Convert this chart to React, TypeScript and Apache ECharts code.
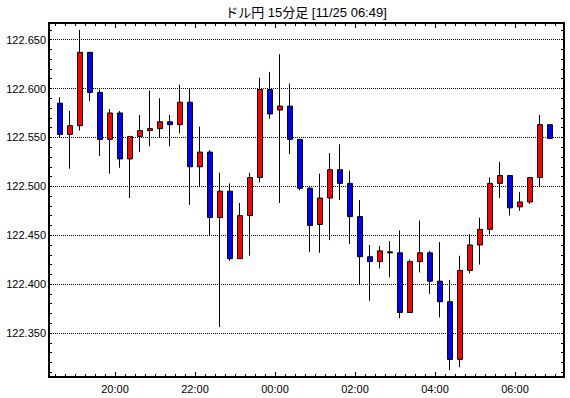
import { useEffect, useRef } from 'react';
import * as echarts from 'echarts';

const title = 'ドル円 15分足 [11/25 06:49]';

const times = [
  '18:30', '18:45', '19:00', '19:15', '19:30', '19:45', '20:00', '20:15', '20:30', '20:45',
  '21:00', '21:15', '21:30', '21:45', '22:00', '22:15', '22:30', '22:45', '23:00', '23:15',
  '23:30', '23:45', '00:00', '00:15', '00:30', '00:45', '01:00', '01:15', '01:30', '01:45',
  '02:00', '02:15', '02:30', '02:45', '03:00', '03:15', '03:30', '03:45', '04:00', '04:15',
  '04:30', '04:45', '05:00', '05:15', '05:30', '05:45', '06:00', '06:15', '06:30', '06:45',
];

const opens = [
  122.585, 122.553, 122.562, 122.637, 122.596, 122.548, 122.575, 122.528, 122.551, 122.557,
  122.559, 122.566, 122.563, 122.586, 122.520, 122.535, 122.468, 122.495, 122.426, 122.470,
  122.509, 122.599, 122.578, 122.582, 122.548, 122.498, 122.461, 122.488, 122.517, 122.503,
  122.469, 122.428, 122.423, 122.433, 122.432, 122.371, 122.423, 122.432, 122.403, 122.382,
  122.323, 122.414, 122.440, 122.456, 122.503, 122.511, 122.479, 122.484, 122.509, 122.563,
];
const closes = [
  122.553, 122.562, 122.637, 122.596, 122.548, 122.575, 122.528, 122.551, 122.557, 122.559,
  122.566, 122.563, 122.586, 122.520, 122.535, 122.468, 122.495, 122.426, 122.470, 122.509,
  122.599, 122.574, 122.582, 122.548, 122.498, 122.460, 122.488, 122.517, 122.503, 122.469,
  122.428, 122.423, 122.434, 122.432, 122.371, 122.423, 122.432, 122.403, 122.382, 122.323,
  122.414, 122.440, 122.456, 122.503, 122.511, 122.478, 122.484, 122.509, 122.563, 122.549,
];
const lows = [
  122.550, 122.518, 122.557, 122.587, 122.531, 122.513, 122.519, 122.488, 122.535, 122.541,
  122.550, 122.541, 122.554, 122.481, 122.500, 122.450, 122.356, 122.424, 122.426, 122.429,
  122.504, 122.569, 122.483, 122.533, 122.496, 122.433, 122.432, 122.445, 122.486, 122.441,
  122.400, 122.383, 122.416, 122.407, 122.365, 122.371, 122.412, 122.390, 122.366, 122.312,
  122.315, 122.411, 122.420, 122.451, 122.488, 122.470, 122.475, 122.482, 122.500, 122.549,
];
const highs = [
  122.591, 122.577, 122.660, 122.637, 122.599, 122.579, 122.577, 122.551, 122.573, 122.598,
  122.590, 122.573, 122.604, 122.600, 122.561, 122.537, 122.514, 122.503, 122.483, 122.514,
  122.611, 122.617, 122.635, 122.605, 122.548, 122.500, 122.513, 122.534, 122.543, 122.516,
  122.486, 122.440, 122.439, 122.444, 122.455, 122.425, 122.465, 122.434, 122.443, 122.404,
  122.429, 122.451, 122.468, 122.509, 122.525, 122.511, 122.494, 122.509, 122.573, 122.563,
];

const Y_MIN = 122.305;
const Y_MAX = 122.667;
// x scale of the frame, in candle slots relative to the 20:00 boundary
const X_MIN = -6.6;
const X_MAX = 44.9;
const FIRST_MAJOR = 6; // index of the 20:00 candle

const FONT = "'Liberation Sans', 'Noto Sans CJK JP', sans-serif";

export default function App() {
  const ref = useRef<HTMLDivElement>(null);
  useEffect(() => {
    if (!ref.current) return;
    const chart = echarts.init(ref.current, undefined, { renderer: 'svg' });
    const data = opens.map((o, i) => [o, closes[i], lows[i], highs[i]]);

    const tickAxisX = (position: string, major: boolean, labels: boolean) => ({
      type: 'value',
      gridIndex: 0,
      position,
      min: X_MIN,
      max: X_MAX,
      minInterval: major ? 8 : 1,
      maxInterval: major ? 8 : 1,
      axisLine: { show: false, onZero: false },
      axisTick: { show: true, inside: true, length: major ? 5 : 3, lineStyle: { color: '#000', width: 1 } },
      axisLabel: {
        show: labels,
        margin: 6,
        fontSize: 11,
        color: '#000',
        fontFamily: FONT,
        showMinLabel: false,
        showMaxLabel: false,
        formatter: (v: number) => times[Math.round(v) + FIRST_MAJOR] ?? '',
      },
      splitLine: { show: false },
    });

    const tickAxisY = (position: string) => ({
      type: 'value',
      gridIndex: 0,
      position,
      min: Y_MIN,
      max: Y_MAX,
      minInterval: 0.01,
      maxInterval: 0.01,
      axisLine: { show: false, onZero: false },
      axisTick: { show: true, inside: true, length: 3, lineStyle: { color: '#000', width: 1 } },
      axisLabel: { show: false },
      splitLine: { show: false },
    });

    chart.setOption({
      animation: false,
      backgroundColor: '#ffffff',
      grid: [
        { left: 49, right: 6, top: 23, bottom: 21, containLabel: false, outerBoundsMode: 'none' },
        { left: 55, right: 15, top: 23, bottom: 21, containLabel: false, outerBoundsMode: 'none' },
      ],
      xAxis: [
        tickAxisX('bottom', true, true),
        tickAxisX('bottom', false, false),
        tickAxisX('top', true, false),
        tickAxisX('top', false, false),
        { type: 'category', gridIndex: 1, data: times, show: false, boundaryGap: true },
      ],
      yAxis: [
        {
          type: 'value',
          gridIndex: 0,
          position: 'left',
          min: Y_MIN,
          max: Y_MAX,
          minInterval: 0.05,
          maxInterval: 0.05,
          axisLine: { show: false, onZero: false },
          axisTick: { show: false },
          axisLabel: {
            show: true,
            margin: 3,
            fontSize: 11,
            color: '#000',
            fontFamily: FONT,
            showMinLabel: false,
            showMaxLabel: false,
            formatter: (v: number) => v.toFixed(3),
          },
          splitLine: {
            show: true,
            showMinLine: false,
            showMaxLine: false,
            lineStyle: { color: '#000', width: 1, type: [1, 1] },
          },
        },
        tickAxisY('left'),
        tickAxisY('right'),
        { type: 'value', gridIndex: 1, min: Y_MIN, max: Y_MAX, show: false, splitLine: { show: false } },
      ],
      series: [
        {
          type: 'candlestick',
          xAxisIndex: 4,
          yAxisIndex: 3,
          data,
          barWidth: 6,
          itemStyle: {
            color: '#ff0000',
            color0: '#0000ff',
            borderColor: '#000000',
            borderColor0: '#000000',
            borderColorDoji: '#000000',
            borderWidth: 1,
          },
        },
      ],
      graphic: [
        {
          type: 'text',
          x: 306,
          y: 12,
          z: 100,
          style: {
            text: title,
            fontSize: 13,
            fontFamily: FONT,
            fill: '#000',
            align: 'center',
            verticalAlign: 'middle',
          },
        },
        {
          type: 'rect',
          z: 100,
          shape: { x: 49, y: 23, width: 515, height: 354 },
          style: { fill: 'transparent', stroke: '#000', lineWidth: 2 },
        },
      ],
    });
    return () => chart.dispose();
  }, []);
  return <div ref={ref} style={{ position: 'absolute', left: 0, top: 0, width: 570, height: 398 }} />;
}
